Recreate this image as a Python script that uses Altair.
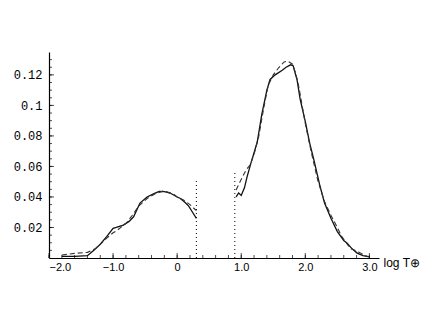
import altair as alt
import pandas as pd

# ---- data ----
left_solid_x = [-1.8, -1.6, -1.4, -1.3, -1.2, -1.1, -1.0, -0.95, -0.84, -0.75, -0.68, -0.58, -0.47, -0.37, -0.28, -0.2, -0.11, 0.0, 0.05, 0.12, 0.18, 0.24, 0.3]
left_solid_y = [0.001, 0.001, 0.0015, 0.005, 0.009, 0.014, 0.0195, 0.020, 0.0216, 0.024, 0.027, 0.036, 0.040, 0.042, 0.0437, 0.0435, 0.0426, 0.040, 0.039, 0.0365, 0.034, 0.030, 0.026]

left_dash_x = [-1.8, -1.6, -1.4, -1.28, -1.18, -1.1, -1.0, -0.94, -0.79, -0.7, -0.6, -0.47, -0.35, -0.21, -0.1, -0.06, 0.0, 0.1, 0.2, 0.3]
left_dash_y = [0.002, 0.003, 0.0037, 0.006, 0.0098, 0.013, 0.0165, 0.018, 0.023, 0.028, 0.034, 0.039, 0.042, 0.044, 0.0425, 0.042, 0.040, 0.038, 0.035, 0.031]

right_solid_x = [0.92, 0.96, 1.0, 1.05, 1.09, 1.15, 1.2, 1.25, 1.32, 1.4, 1.45, 1.53, 1.64, 1.7, 1.77, 1.81, 1.87, 1.92, 2.0, 2.07, 2.13, 2.23, 2.3, 2.4, 2.5, 2.6, 2.65, 2.73, 2.81, 2.9, 2.96, 3.0]
right_solid_y = [0.040, 0.0426, 0.041, 0.046, 0.053, 0.062, 0.069, 0.076, 0.094, 0.110, 0.117, 0.120, 0.123, 0.125, 0.1266, 0.126, 0.117, 0.104, 0.0894, 0.075, 0.065, 0.047, 0.036, 0.026, 0.0173, 0.0115, 0.0098, 0.006, 0.0032, 0.0015, 0.001, 0.0008]

right_dash_x = [0.92, 0.97, 1.03, 1.08, 1.14, 1.2, 1.27, 1.35, 1.42, 1.5, 1.58, 1.67, 1.73, 1.8, 1.85, 1.9, 2.0, 2.1, 2.2, 2.3, 2.4, 2.5, 2.57, 2.7, 2.83, 2.94, 3.0]
right_dash_y = [0.0446, 0.049, 0.054, 0.058, 0.061, 0.068, 0.079, 0.098, 0.113, 0.120, 0.1245, 0.1285, 0.129, 0.127, 0.121, 0.112, 0.088, 0.068, 0.050, 0.037, 0.028, 0.020, 0.014, 0.0063, 0.004, 0.0015, 0.0008]

dotted_x = [0.3, 0.9]
dotted_top = [0.052, 0.056]

x_label_values = [-2, -1, 0, 1, 2, 3]
x_minor_values = [round(-2 + 0.2 * i, 1) for i in range(26)]
y_label_values = [0.02, 0.04, 0.06, 0.08, 0.10, 0.12]
y_minor_values = [round(0.005 * i, 3) for i in range(1, 27)]

W, H = 330, 206

# ---- tables ----
def table(segs):
    rows = []
    for name, xs, ys in segs:
        for a, b in zip(xs, ys):
            rows.append({"x": a, "y": b, "seg": name})
    return pd.DataFrame(rows)

solid_df = table([("left", left_solid_x, left_solid_y), ("right", right_solid_x, right_solid_y)])
dash_df = table([("left", left_dash_x, left_dash_y), ("right", right_dash_x, right_dash_y)])
dot_df = pd.DataFrame({"x": dotted_x, "y0": [0.0, 0.0], "y": dotted_top})
xminor_df = pd.DataFrame({"x": x_minor_values})
xmajor_df = pd.DataFrame({"x": x_label_values})
yminor_df = pd.DataFrame({"y": y_minor_values})
ymajor_df = pd.DataFrame({"y": y_label_values})

xscale = alt.Scale(domain=[-2, 3.15], nice=False, zero=False)
yscale = alt.Scale(domain=[0, 0.135], nice=False, zero=True)

axis_x_main = alt.Axis(orient="bottom", values=x_label_values, ticks=False, domain=True,
                       domainColor="black", domainWidth=1.2,
                       labelExpr="datum.value == 0 ? '0' : format(datum.value, '.1f')",
                       labelFont="Liberation Sans", labelFontSize=11, labelColor="black",
                       labelPadding=3, grid=False,
                       title="log T⊕", titleFont="Liberation Sans", titleFontSize=12,
                       titleFontWeight="normal", titleColor="black",
                       titleX=334, titleY=4, titleAlign="left", titleBaseline="middle",
                       titleAnchor="start")
axis_y_main = alt.Axis(orient="left", values=y_label_values, ticks=False, domain=True,
                       domainColor="black", domainWidth=1.2, format=".2~f",
                       labelFont="Liberation Mono", labelFontSize=12, labelColor="black",
                       labelPadding=7, grid=False, title="")

solid = alt.Chart(solid_df).mark_line(color="#111111", strokeWidth=1.3).encode(
    x=alt.X("x:Q", scale=xscale, axis=axis_x_main),
    y=alt.Y("y:Q", scale=yscale, axis=axis_y_main),
    detail="seg:N",
    order="x:Q",
)
dashed = alt.Chart(dash_df).mark_line(color="#333333", strokeWidth=1.1, strokeDash=[5, 3]).encode(
    x=alt.X("x:Q", scale=xscale),
    y=alt.Y("y:Q", scale=yscale),
    detail="seg:N",
    order="x:Q",
)
dotted = alt.Chart(dot_df).mark_rule(color="black", strokeWidth=1, strokeDash=[1, 3]).encode(
    x=alt.X("x:Q", scale=xscale),
    y=alt.Y("y0:Q", scale=yscale),
    y2="y:Q",
)

# inward tick marks along the axes
xminor = alt.Chart(xminor_df).mark_tick(color="black", orient="vertical", size=3, thickness=1).encode(
    x=alt.X("x:Q", scale=xscale), y=alt.value(H - 1.5))
xmajor = alt.Chart(xmajor_df).mark_tick(color="black", orient="vertical", size=5, thickness=1).encode(
    x=alt.X("x:Q", scale=xscale), y=alt.value(H - 2.5))
yminor = alt.Chart(yminor_df).mark_tick(color="black", orient="horizontal", size=3, thickness=1).encode(
    y=alt.Y("y:Q", scale=yscale), x=alt.value(1.5))
ymajor = alt.Chart(ymajor_df).mark_tick(color="black", orient="horizontal", size=5, thickness=1).encode(
    y=alt.Y("y:Q", scale=yscale), x=alt.value(2.5))

chart = alt.layer(solid, dashed, dotted, xminor, xmajor, yminor, ymajor).properties(
    width=W, height=H,
    autosize=alt.AutoSizeParams(type="none"),
    padding={"left": 41, "top": 44, "right": 45, "bottom": 40},
    background="white",
).configure_view(stroke=None)

chart.save("out.html", embed_options={"renderer": "svg", "actions": False})
